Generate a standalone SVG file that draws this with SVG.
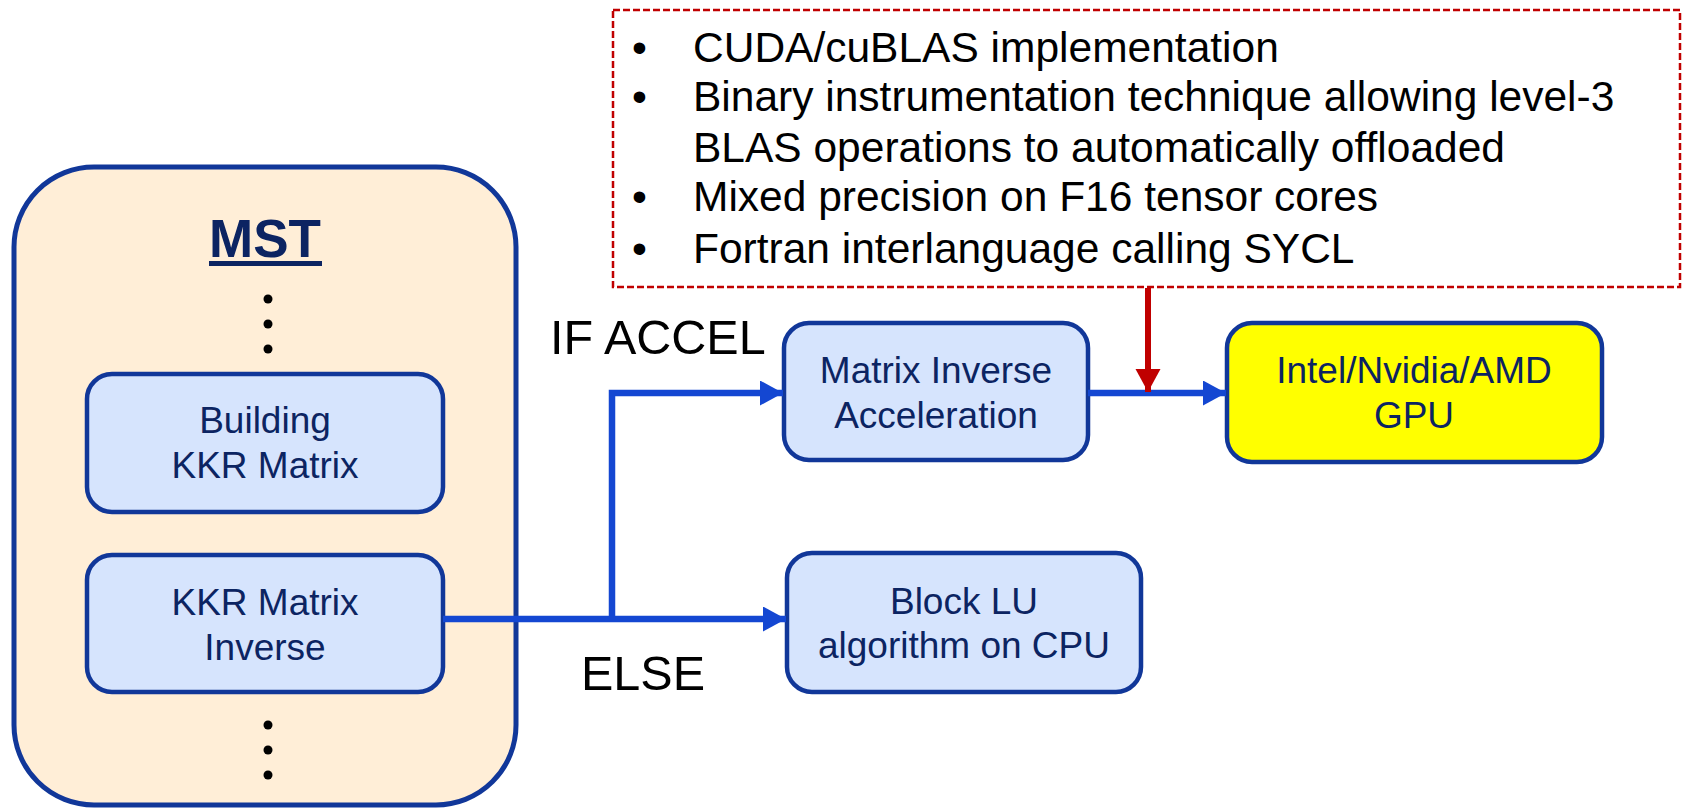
<svg xmlns="http://www.w3.org/2000/svg" width="1684" height="809" viewBox="0 0 1684 809">
<defs>
<style>
.node{fill:#D6E4FD;stroke:#113799;stroke-width:4.5}
.nt{font-family:"Liberation Sans",Arial,sans-serif;font-size:37px;fill:#0C2462;text-anchor:middle}
.lbl{font-family:"Liberation Sans",Arial,sans-serif;font-size:48.5px;fill:#000}
.bt{font-family:"Liberation Sans",Arial,sans-serif;font-size:42.5px;fill:#000}
.conn{fill:none;stroke:#1447D2;stroke-width:6.5}
.dot{fill:#000}
</style>
<marker id="ab" markerUnits="userSpaceOnUse" markerWidth="24" markerHeight="26" refX="23" refY="12.5" orient="auto">
<path d="M0,0 L23,12.5 L0,25 Z" fill="#1447D2"/>
</marker>
<marker id="ar" markerUnits="userSpaceOnUse" markerWidth="24" markerHeight="26" refX="23" refY="12.5" orient="auto">
<path d="M0,0 L23,12.5 L0,25 Z" fill="#C00000"/>
</marker>
</defs>
<rect width="1684" height="809" fill="#fff"/>

<g id="mst">
<rect x="14" y="167" width="502" height="638" rx="80" ry="80" fill="#FFEED7" stroke="#113799" stroke-width="5"/>
<text x="265" y="257" text-anchor="middle" font-family="Liberation Sans,Arial,sans-serif" font-weight="bold" font-size="53" fill="#0C2462">MST</text>
<rect x="209" y="261" width="113" height="5" fill="#0C2462"/>
<circle class="dot" cx="268" cy="299" r="4.5"/>
<circle class="dot" cx="268" cy="324" r="4.5"/>
<circle class="dot" cx="268" cy="349" r="4.5"/>
<circle class="dot" cx="268" cy="725" r="4.5"/>
<circle class="dot" cx="268" cy="750" r="4.5"/>
<circle class="dot" cx="268" cy="775" r="4.5"/>
</g>

<g id="building">
<rect class="node" x="87" y="374" width="356" height="138" rx="25"/>
<text class="nt" x="265" y="433">Building</text>
<text class="nt" x="265" y="478">KKR Matrix</text>
</g>

<g id="kkrinv">
<rect class="node" x="87" y="555" width="356" height="137" rx="25"/>
<text class="nt" x="265" y="615">KKR Matrix</text>
<text class="nt" x="265" y="660">Inverse</text>
</g>

<g id="accel">
<rect class="node" x="784" y="323" width="304" height="137" rx="25"/>
<text class="nt" x="936" y="383">Matrix Inverse</text>
<text class="nt" x="936" y="428">Acceleration</text>
</g>

<g id="blocklu">
<rect class="node" x="787" y="553" width="354" height="139" rx="25"/>
<text class="nt" x="964" y="614">Block LU</text>
<text class="nt" x="964" y="658">algorithm on CPU</text>
</g>

<g id="gpu">
<rect x="1227" y="323" width="375" height="139" rx="25" fill="#FFFF00" stroke="#113799" stroke-width="4.5"/>
<text class="nt" x="1414" y="383">Intel/Nvidia/AMD</text>
<text class="nt" x="1414" y="428">GPU</text>
</g>

<g id="notes">
<rect x="613" y="10" width="1067" height="277" fill="none" stroke="#C00000" stroke-width="2.5" stroke-dasharray="7,3"/>
<text class="bt" x="632" y="62">•</text>
<text class="bt" x="693" y="62">CUDA/cuBLAS implementation</text>
<text class="bt" x="632" y="111">•</text>
<text class="bt" x="693" y="111">Binary instrumentation technique allowing level-3</text>
<text class="bt" x="693" y="162">BLAS operations to automatically offloaded</text>
<text class="bt" x="632" y="211">•</text>
<text class="bt" x="693" y="211">Mixed precision on F16 tensor cores</text>
<text class="bt" x="632" y="263">•</text>
<text class="bt" x="693" y="263">Fortran interlanguage calling SYCL</text>
</g>

<g id="labels">
<text class="lbl" x="550" y="354">IF ACCEL</text>
<text class="lbl" x="581" y="690">ELSE</text>
</g>

<g id="connectors">
<path class="conn" d="M443,619 L786,619" marker-end="url(#ab)"/>
<path class="conn" d="M612,619 L612,393 L783,393" marker-end="url(#ab)"/>
<path class="conn" d="M1088,393 L1226,393" marker-end="url(#ab)"/>
<path d="M1148,288 L1148,392" fill="none" stroke="#C00000" stroke-width="6" marker-end="url(#ar)"/>
</g>
</svg>
